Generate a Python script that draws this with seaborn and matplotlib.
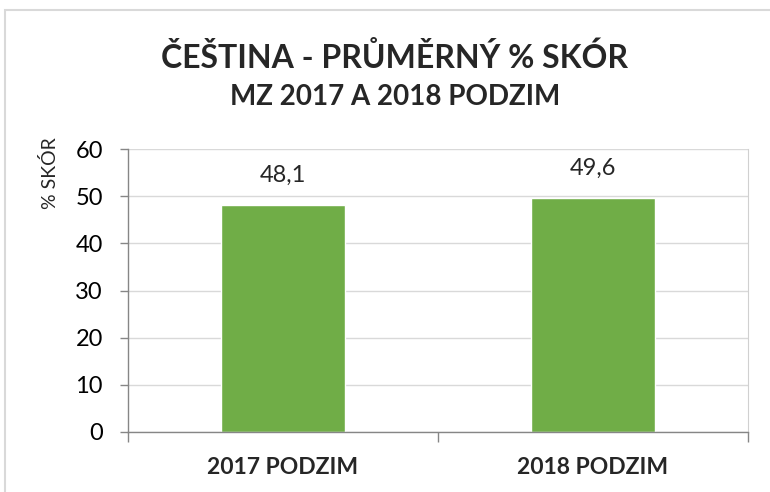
import matplotlib
matplotlib.use("Agg")
import matplotlib.pyplot as plt
import seaborn as sns
import pandas as pd
from matplotlib.patches import Rectangle

# Chart data
categories = ["2017 PODZIM", "2018 PODZIM"]
scores = [48.1, 49.6]
y_ticks = [0, 10, 20, 30, 40, 50, 60]

title = "ČEŠTINA - PRŮMĚRNÝ % SKÓR"
subtitle = "MZ 2017 A 2018 PODZIM"
y_label = "% SKÓR"

df = pd.DataFrame({"kategorie": categories, "skor": scores})

sns.set_style("white")
plt.rcParams["font.family"] = ["Lato", "DejaVu Sans"]

fig = plt.figure(figsize=(7.7, 4.92), dpi=100)
ax = fig.add_axes([128 / 770, 60 / 492, 620 / 770, 283 / 492])

sns.barplot(data=df, x="kategorie", y="skor", color="#70AD47", width=0.4,
            saturation=1, ax=ax)

# ===== axes styling =====
ax.set_xlim(-0.5, 1.5)
ax.set_ylim(0, 60)
ax.set_yticks(y_ticks)
ax.yaxis.grid(True, color="#d9d9d9", linewidth=1)
ax.set_axisbelow(True)

for side in ["left", "bottom"]:
    ax.spines[side].set_color("#868686")
    ax.spines[side].set_linewidth(1)
ax.spines["right"].set_color("#d0d0d0")
ax.spines["top"].set_visible(False)

ax.tick_params(axis="y", length=6, width=1, color="#868686", pad=12,
               labelsize=17, labelcolor="black", left=True)
ax.tick_params(axis="x", which="major", length=0, pad=18, labelsize=16.5)
ax.set_xticks([-0.5, 0.5, 1.5], minor=True)
ax.tick_params(axis="x", which="minor", length=7, width=1, color="#868686",
               bottom=True)
for lbl in ax.get_xticklabels():
    lbl.set_fontweight("bold")

ax.set_xlabel("")
ax.set_ylabel(y_label, fontsize=14)
ax.yaxis.set_label_coords(-0.112, 0.915)

# data labels
ax.bar_label(ax.containers[0],
             labels=[f"{v:.1f}".replace(".", ",") for v in scores],
             padding=14, fontsize=17)

# titles
fig.text(0.512, 0.883, title, ha="center", va="center", fontsize=23,
         fontweight="bold")
fig.text(0.513, 0.803, subtitle, ha="center", va="center", fontsize=20,
         fontweight="bold")

# chart border (top and left visible)
fig.patches.append(Rectangle((5 / 770, -0.1), 1.2, 1.1 - 10 / 492,
                             transform=fig.transFigure, fill=False,
                             edgecolor="#d9d9d9", linewidth=1.5))

plt.savefig("out.png", dpi=100)
plt.close()
